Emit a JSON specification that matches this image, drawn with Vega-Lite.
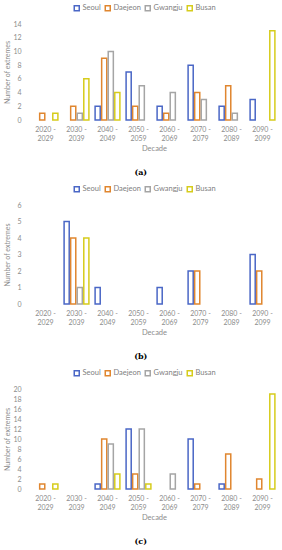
{
  "$schema": "https://vega.github.io/schema/vega-lite/v6.json",
  "padding": {"left": 3, "top": 4, "right": 2, "bottom": 0},
  "background": "white",
  "config": {
    "font": "Lato",
    "view": {"stroke": null},
    "concat": {"spacing": 8},
    "axis": {"labelColor": "#8c8c8c", "titleColor": "#8c8c8c", "labelFont": "Lato", "titleFont": "Lato", "labelFontSize": 7, "titleFontSize": 7.5, "titleFontWeight": "normal", "ticks": false, "grid": false, "domain": false},
    "axisX": {"labelAngle": 0, "labelPadding": 5, "titlePadding": 3.5, "labelLineHeight": 9, "labelExpr": "[substring(datum.label, 0, 6), substring(datum.label, 7)]"},
    "axisY": {"labelPadding": 9, "titleX": -22.5, "titleBaseline": "middle", "titleFontSize": 7},
    "legend": {"labelColor": "#7f7f7f", "labelFont": "Lato", "labelFontSize": 7.5, "symbolType": "square", "symbolSize": 25, "symbolStrokeWidth": 1.5, "symbolFillColor": "white", "columnPadding": 1, "labelOffset": 2, "padding": 0},
    "title": {"font": "DejaVu Serif", "fontSize": 8, "fontWeight": "bold", "color": "#000000", "orient": "bottom", "anchor": "middle", "frame": "bounds", "offset": 17}
  },
  "data": {"values": [
    {"panel": "a", "decade": "2020 - 2029", "city": "Daejeon", "n": 1},
    {"panel": "a", "decade": "2020 - 2029", "city": "Busan", "n": 1},
    {"panel": "a", "decade": "2030 - 2039", "city": "Daejeon", "n": 2},
    {"panel": "a", "decade": "2030 - 2039", "city": "Gwangju", "n": 1},
    {"panel": "a", "decade": "2030 - 2039", "city": "Busan", "n": 6},
    {"panel": "a", "decade": "2040 - 2049", "city": "Seoul", "n": 2},
    {"panel": "a", "decade": "2040 - 2049", "city": "Daejeon", "n": 9},
    {"panel": "a", "decade": "2040 - 2049", "city": "Gwangju", "n": 10},
    {"panel": "a", "decade": "2040 - 2049", "city": "Busan", "n": 4},
    {"panel": "a", "decade": "2050 - 2059", "city": "Seoul", "n": 7},
    {"panel": "a", "decade": "2050 - 2059", "city": "Daejeon", "n": 2},
    {"panel": "a", "decade": "2050 - 2059", "city": "Gwangju", "n": 5},
    {"panel": "a", "decade": "2060 - 2069", "city": "Seoul", "n": 2},
    {"panel": "a", "decade": "2060 - 2069", "city": "Daejeon", "n": 1},
    {"panel": "a", "decade": "2060 - 2069", "city": "Gwangju", "n": 4},
    {"panel": "a", "decade": "2070 - 2079", "city": "Seoul", "n": 8},
    {"panel": "a", "decade": "2070 - 2079", "city": "Daejeon", "n": 4},
    {"panel": "a", "decade": "2070 - 2079", "city": "Gwangju", "n": 3},
    {"panel": "a", "decade": "2080 - 2089", "city": "Seoul", "n": 2},
    {"panel": "a", "decade": "2080 - 2089", "city": "Daejeon", "n": 5},
    {"panel": "a", "decade": "2080 - 2089", "city": "Gwangju", "n": 1},
    {"panel": "a", "decade": "2090 - 2099", "city": "Seoul", "n": 3},
    {"panel": "a", "decade": "2090 - 2099", "city": "Busan", "n": 13},
    {"panel": "b", "decade": "2030 - 2039", "city": "Seoul", "n": 5},
    {"panel": "b", "decade": "2030 - 2039", "city": "Daejeon", "n": 4},
    {"panel": "b", "decade": "2030 - 2039", "city": "Gwangju", "n": 1},
    {"panel": "b", "decade": "2030 - 2039", "city": "Busan", "n": 4},
    {"panel": "b", "decade": "2040 - 2049", "city": "Seoul", "n": 1},
    {"panel": "b", "decade": "2060 - 2069", "city": "Seoul", "n": 1},
    {"panel": "b", "decade": "2070 - 2079", "city": "Seoul", "n": 2},
    {"panel": "b", "decade": "2070 - 2079", "city": "Daejeon", "n": 2},
    {"panel": "b", "decade": "2090 - 2099", "city": "Seoul", "n": 3},
    {"panel": "b", "decade": "2090 - 2099", "city": "Daejeon", "n": 2},
    {"panel": "c", "decade": "2020 - 2029", "city": "Daejeon", "n": 1},
    {"panel": "c", "decade": "2020 - 2029", "city": "Busan", "n": 1},
    {"panel": "c", "decade": "2040 - 2049", "city": "Seoul", "n": 1},
    {"panel": "c", "decade": "2040 - 2049", "city": "Daejeon", "n": 10},
    {"panel": "c", "decade": "2040 - 2049", "city": "Gwangju", "n": 9},
    {"panel": "c", "decade": "2040 - 2049", "city": "Busan", "n": 3},
    {"panel": "c", "decade": "2050 - 2059", "city": "Seoul", "n": 12},
    {"panel": "c", "decade": "2050 - 2059", "city": "Daejeon", "n": 3},
    {"panel": "c", "decade": "2050 - 2059", "city": "Gwangju", "n": 12},
    {"panel": "c", "decade": "2050 - 2059", "city": "Busan", "n": 1},
    {"panel": "c", "decade": "2060 - 2069", "city": "Gwangju", "n": 3},
    {"panel": "c", "decade": "2070 - 2079", "city": "Seoul", "n": 10},
    {"panel": "c", "decade": "2070 - 2079", "city": "Daejeon", "n": 1},
    {"panel": "c", "decade": "2080 - 2089", "city": "Seoul", "n": 1},
    {"panel": "c", "decade": "2080 - 2089", "city": "Daejeon", "n": 7},
    {"panel": "c", "decade": "2090 - 2099", "city": "Daejeon", "n": 2},
    {"panel": "c", "decade": "2090 - 2099", "city": "Busan", "n": 19}
  ]},
  "resolve": {"scale": {"y": "independent", "stroke": "independent"}, "legend": {"stroke": "independent"}},
  "vconcat": [
    {
      "width": 248, "height": 96,
      "title": "(a)",
      "transform": [{"filter": "datum.panel == 'a'"}],
      "mark": {"type": "bar", "fill": "white", "strokeWidth": 1.5},
      "encoding": {
        "x": {"field": "decade", "type": "nominal", "scale": {"domain": ["2020 - 2029", "2030 - 2039", "2040 - 2049", "2050 - 2059", "2060 - 2069", "2070 - 2079", "2080 - 2089", "2090 - 2099"], "paddingInner": 0.2, "paddingOuter": 0.1}, "axis": {"title": "Decade"}},
        "xOffset": {"field": "city", "type": "nominal", "scale": {"domain": ["Seoul", "Daejeon", "Gwangju", "Busan"], "paddingInner": 0.22}},
        "y": {"field": "n", "type": "quantitative", "scale": {"domain": [0, 14], "nice": false}, "axis": {"title": "Number of extremes", "values": [0, 2, 4, 6, 8, 10, 12, 14]}},
        "stroke": {"field": "city", "type": "nominal", "scale": {"domain": ["Seoul", "Daejeon", "Gwangju", "Busan"], "range": ["#4a67c6", "#e0862f", "#a5a5a5", "#d6cc1c"]}, "legend": {"title": null, "orient": "none", "direction": "horizontal", "legendX": 43, "legendY": -20}}
      }
    },
    {
      "width": 248, "height": 99,
      "title": "(b)",
      "transform": [{"filter": "datum.panel == 'b'"}],
      "mark": {"type": "bar", "fill": "white", "strokeWidth": 1.5},
      "encoding": {
        "x": {"field": "decade", "type": "nominal", "scale": {"domain": ["2020 - 2029", "2030 - 2039", "2040 - 2049", "2050 - 2059", "2060 - 2069", "2070 - 2079", "2080 - 2089", "2090 - 2099"], "paddingInner": 0.2, "paddingOuter": 0.1}, "axis": {"title": "Decade"}},
        "xOffset": {"field": "city", "type": "nominal", "scale": {"domain": ["Seoul", "Daejeon", "Gwangju", "Busan"], "paddingInner": 0.22}},
        "y": {"field": "n", "type": "quantitative", "scale": {"domain": [0, 6], "nice": false}, "axis": {"title": "Number of extremes", "values": [0, 1, 2, 3, 4, 5, 6]}},
        "stroke": {"field": "city", "type": "nominal", "scale": {"domain": ["Seoul", "Daejeon", "Gwangju", "Busan"], "range": ["#4a67c6", "#e0862f", "#a5a5a5", "#d6cc1c"]}, "legend": {"title": null, "orient": "none", "direction": "horizontal", "legendX": 43, "legendY": -20}}
      }
    },
    {
      "width": 248, "height": 100,
      "title": "(c)",
      "transform": [{"filter": "datum.panel == 'c'"}],
      "mark": {"type": "bar", "fill": "white", "strokeWidth": 1.5},
      "encoding": {
        "x": {"field": "decade", "type": "nominal", "scale": {"domain": ["2020 - 2029", "2030 - 2039", "2040 - 2049", "2050 - 2059", "2060 - 2069", "2070 - 2079", "2080 - 2089", "2090 - 2099"], "paddingInner": 0.2, "paddingOuter": 0.1}, "axis": {"title": "Decade"}},
        "xOffset": {"field": "city", "type": "nominal", "scale": {"domain": ["Seoul", "Daejeon", "Gwangju", "Busan"], "paddingInner": 0.22}},
        "y": {"field": "n", "type": "quantitative", "scale": {"domain": [0, 20], "nice": false}, "axis": {"title": "Number of extremes", "values": [0, 2, 4, 6, 8, 10, 12, 14, 16, 18, 20]}},
        "stroke": {"field": "city", "type": "nominal", "scale": {"domain": ["Seoul", "Daejeon", "Gwangju", "Busan"], "range": ["#4a67c6", "#e0862f", "#a5a5a5", "#d6cc1c"]}, "legend": {"title": null, "orient": "none", "direction": "horizontal", "legendX": 43, "legendY": -20}}
      }
    }
  ]
}
